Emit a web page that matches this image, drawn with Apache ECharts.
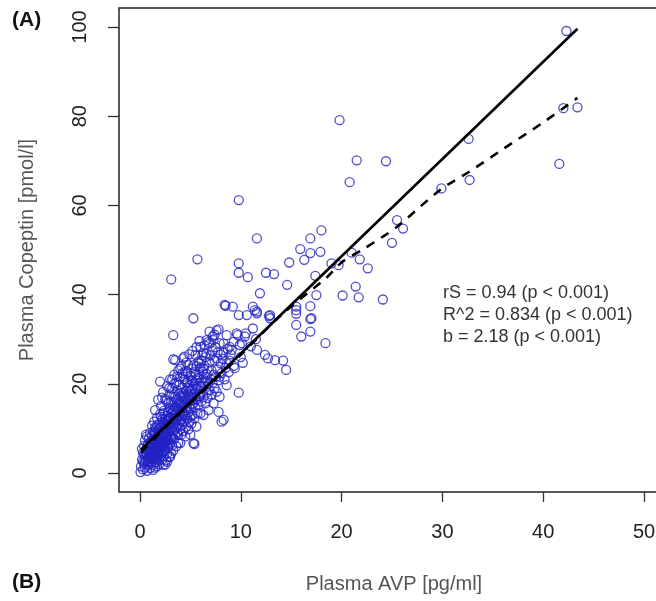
<!DOCTYPE html>
<html><head><meta charset="utf-8">
<script src="https://cdn.jsdelivr.net/npm/echarts@6/dist/echarts.min.js"></script>
<style>html,body{margin:0;padding:0;background:#fff}#c{width:656px;height:601px}</style>
</head><body><div id="c"></div>
<script>
// [Plasma AVP pg/ml, Plasma Copeptin pmol/l]
const samples = [
[0.05,0.2],[0.1,1.5],[0.2,3.0],[0.3,0.8],[0.3,4.5],[0.4,2.2],[0.4,6.1],[0.5,1.2],[0.5,3.6],[0.5,7.3],[0.6,2.8],[0.6,5.2],[0.7,0.5],[0.7,4.0],[0.7,8.2],[0.8,1.9],[0.8,3.3],[0.8,6.4],[0.9,2.5],[0.9,4.8],[0.9,7.8],[1.0,1.1],[1.0,3.9],[1.0,5.8],[1.0,9.0],[0.2,5.4],[0.6,8.6],[0.4,4.2],[0.8,5.0],[0.3,2.6],
[1.1,2.2],[1.1,4.6],[1.1,7.0],[1.2,3.1],[1.2,5.5],[1.2,8.4],[1.2,10.6],[1.3,1.8],[1.3,4.0],[1.3,6.3],[1.3,9.2],[1.4,2.7],[1.4,5.0],[1.4,7.6],[1.4,11.5],[1.5,3.6],[1.5,6.0],[1.5,8.8],[1.5,14.1],[1.6,2.4],[1.6,4.6],[1.6,7.1],[1.6,10.0],[1.7,3.3],[1.7,5.6],[1.7,8.2],[1.7,12.4],[1.8,4.2],[1.8,6.6],[1.8,9.6],[1.8,16.4],[1.9,2.9],[1.9,5.2],[1.9,7.8],[1.9,11.0],[2.0,3.8],[2.0,6.2],[2.0,8.9],[2.0,13.2],[2.0,20.5],[1.3,0.7],[1.5,1.2],[1.7,1.5],[1.9,2.0],
[2.1,4.5],[2.1,7.2],[2.1,10.3],[2.1,15.0],[2.2,3.0],[2.2,5.8],[2.2,8.5],[2.2,12.0],[2.3,1.8],[2.3,4.8],[2.3,7.0],[2.3,9.8],[2.3,18.2],[2.4,3.8],[2.4,6.3],[2.4,11.2],[2.4,14.0],[2.5,5.2],[2.5,7.9],[2.5,10.4],[2.5,16.6],[2.6,2.9],[2.6,6.8],[2.6,9.0],[2.6,12.8],[2.7,4.4],[2.7,8.2],[2.7,11.6],[2.7,19.5],[2.8,5.6],[2.8,7.4],[2.8,13.6],[2.8,15.8],[2.9,3.6],[2.9,9.4],[2.9,12.2],[2.9,17.4],[3.0,3.7],[3.0,6.4],[3.0,10.8],[3.0,14.6],[3.0,21.0],[2.5,1.9],[2.7,2.5],[2.2,16.9],
[3.1,4.4],[3.1,8.0],[3.1,12.5],[3.1,16.0],[3.2,6.2],[3.2,9.6],[3.2,13.4],[3.2,19.0],[3.3,5.0],[3.3,10.9],[3.3,15.2],[3.3,25.5],[3.3,30.9],[3.4,7.6],[3.4,11.8],[3.4,17.6],[3.4,22.0],[3.5,8.6],[3.5,13.0],[3.5,14.8],[3.5,25.3],[3.6,6.0],[3.6,10.2],[3.6,16.4],[3.6,20.2],[3.7,9.0],[3.7,12.6],[3.7,18.6],[3.8,6.7],[3.8,8.5],[3.8,14.2],[3.8,23.0],[3.9,11.0],[3.9,15.6],[3.9,19.8],[4.0,6.7],[4.0,9.8],[4.0,13.8],[4.0,17.2],[4.0,21.6],[3.1,43.4],
[4.1,8.6],[4.1,12.0],[4.1,16.0],[4.1,24.0],[4.2,10.8],[4.2,14.6],[4.2,19.2],[4.3,9.4],[4.3,13.2],[4.3,17.8],[4.3,25.7],[4.4,11.6],[4.4,15.4],[4.4,21.0],[4.4,26.1],[4.5,8.2],[4.5,12.8],[4.5,16.8],[4.5,22.8],[4.6,10.4],[4.6,14.0],[4.6,18.4],[4.7,12.2],[4.7,15.8],[4.7,20.4],[4.8,9.8],[4.8,13.6],[4.8,17.4],[4.8,24.2],[4.9,11.4],[4.9,15.0],[4.9,19.6],[5.0,12.6],[5.0,16.2],[5.0,21.8],[5.0,8.6],
[1.2,6.8],[1.4,9.0],[1.6,8.6],[1.8,7.6],[2.0,10.0],[2.2,9.4],[2.4,8.8],[2.6,10.9],[2.8,11.0],[3.0,12.4],[3.2,11.2],[3.4,9.6],[3.6,12.0],[3.8,12.0],[4.0,11.6],[2.1,12.6],[2.3,13.4],[2.5,12.2],[1.7,10.8],[1.5,10.2],[2.9,14.4],[3.3,13.8],[3.7,15.0],[4.2,13.0],[4.4,17.0],[4.6,16.2],[4.8,19.0],[5.0,18.4],[5.2,15.4],[5.4,20.0],[3.5,17.0],[3.9,17.8],[4.1,18.0],[4.3,21.6],[4.7,22.6],[5.1,20.8],[5.5,22.0],[5.3,24.2],[5.9,24.6],[6.2,26.4],[6.4,28.6],[6.6,29.8],[7.2,30.6],[7.4,31.0],
[0.5,2.4],[0.6,4.1],[0.7,6.0],[0.8,2.6],[0.9,3.6],[1.0,6.8],[1.1,3.4],[1.1,5.9],[1.2,4.3],[1.3,5.1],[1.3,7.4],[1.4,3.9],[1.4,6.3],[1.5,4.8],[1.5,7.2],[1.6,5.7],[1.6,3.4],[1.7,6.9],[1.7,4.4],[1.8,5.4],[1.8,8.6],[1.9,6.5],[1.9,9.2],[2.0,5.0],[2.0,7.4],[2.1,6.0],[2.1,8.7],[2.2,7.0],[2.2,10.6],[2.3,6.0],[2.3,8.4],[2.4,5.0],[2.4,9.9],[2.5,6.6],[2.5,9.2],[2.6,8.0],[2.6,11.8],[2.7,6.0],[2.7,9.8],[2.8,8.8],[2.8,12.2],[2.9,6.8],[2.9,10.9],[3.0,8.4],[3.1,10.2],[3.1,14.0],[3.2,8.0],[3.3,12.2],[3.4,14.2],[3.5,11.4],[3.6,14.0],[3.7,10.8],[3.8,16.4],[3.9,13.0],[4.0,15.4],[4.1,14.0],[4.2,17.0],[4.3,15.4],[4.5,14.6],[4.6,20.2],[4.9,17.2],[5.2,18.8],[5.5,16.6],[5.7,21.2],[6.0,17.6],[6.3,23.4],[6.7,20.6],[3.4,20.0],[3.7,21.6],[4.0,23.4],[4.2,22.4],[4.6,24.8],[4.9,26.6],[5.2,27.4],[5.6,28.2],[5.9,29.6],[2.6,16.2],[2.9,19.0],[3.2,21.0],
[5.1,11.1],[5.1,14.4],[5.1,18.6],[5.1,23.4],[5.2,13.0],[5.2,17.0],[5.2,20.6],[5.3,6.7],[5.3,15.6],[5.3,19.4],[5.3,34.7],[5.4,6.5],[5.4,12.2],[5.4,17.8],[5.4,22.6],[5.5,14.6],[5.5,18.8],[5.5,26.5],[5.6,10.4],[5.6,16.4],[5.6,20.8],[5.6,24.0],[5.7,13.4],[5.7,19.0],[5.7,47.9],[5.8,15.2],[5.8,21.4],[5.8,25.0],[5.9,17.2],[5.9,22.0],[6.0,13.4],[6.0,19.6],[6.0,28.3],[6.0,23.6],
[6.1,16.0],[6.1,20.4],[6.1,25.2],[6.2,18.2],[6.2,22.8],[6.3,13.0],[6.3,17.0],[6.3,21.2],[6.3,27.0],[6.4,19.4],[6.4,24.0],[6.5,15.6],[6.5,20.6],[6.5,26.0],[6.6,18.0],[6.6,22.2],[6.6,26.8],[6.7,16.8],[6.7,23.4],[6.8,14.1],[6.8,20.0],[6.8,29.4],[6.9,18.6],[6.9,24.8],[6.9,31.7],[7.0,21.0],[7.0,26.4],[6.9,29.0],
[7.1,17.6],[7.1,23.0],[7.2,20.2],[7.2,27.4],[7.3,15.6],[7.3,22.0],[7.3,29.8],[7.4,19.0],[7.4,25.2],[7.5,21.6],[7.5,28.2],[7.6,18.2],[7.6,25.7],[7.6,32.0],[7.7,23.2],[7.7,27.0],[7.8,13.7],[7.8,20.8],[7.8,32.2],[7.9,17.1],[7.9,21.6],[7.9,29.1],[8.0,24.6],[8.0,26.6],
[8.1,11.5],[8.1,22.4],[8.2,25.6],[8.3,11.9],[8.3,27.0],[8.3,29.0],[8.4,21.0],[8.4,37.7],[8.5,23.6],[8.5,37.5],[8.6,19.7],[8.6,24.6],[8.6,30.9],[8.7,27.8],[8.8,22.6],[8.9,28.3],[8.9,25.2],[9.0,26.6],
[9.1,27.6],[9.2,37.3],[9.3,29.4],[9.3,24.0],[9.4,23.5],[9.6,31.3],[9.7,30.9],[9.8,18.0],[9.8,35.4],[9.8,44.9],[9.8,47.0],[9.8,61.2],[9.9,28.7],[10.0,26.0],
[10.1,29.1],[10.2,24.7],[10.4,30.6],[10.5,31.3],[10.6,35.4],[10.7,43.9],[11.0,28.4],[11.2,37.3],[11.2,32.4],[11.5,30.0],[11.6,36.2],[11.6,27.6],[11.6,35.8],[11.6,52.6],[11.9,40.3],[11.4,36.5],
[12.4,26.5],[12.5,44.9],[12.7,25.7],[12.8,35.2],[12.9,34.7],[12.9,35.4],[13.3,44.6],[13.4,25.3],[14.2,25.2],[14.5,23.1],[14.6,42.2],[14.8,47.2],
[15.5,36.5],[15.5,37.3],[15.5,35.7],[15.5,33.2],[15.9,50.2],[16.0,30.6],[16.3,47.8],[16.9,52.6],[16.9,49.3],[16.9,37.4],[16.9,34.5],[16.9,31.7],[17.0,34.7],[17.4,44.2],[17.5,39.9],[17.9,49.6],[18.0,54.4],[18.4,29.1],[19.0,47.0],[19.7,46.6],[19.8,79.1],
[20.1,39.8],[20.8,65.2],[21.0,49.4],[21.4,41.8],[21.5,70.1],[21.7,39.4],[21.8,47.9],[22.6,45.9],[24.1,38.9],[24.4,69.9],[25.0,51.6],[25.5,56.7],[26.1,54.8],[29.9,63.8],[32.6,74.9],[32.7,65.7],[41.6,69.3],[42.0,81.8],[42.3,99.1],[43.4,82.0]
];
// Linear regression line (b = 2.18)
const lmX = [0.1, 43.4];
const lmY = [5.2, 99.6];
// Dashed loess-type curve
const smoothX = [0.1, 3, 6, 10, 14, 18.5, 20, 22.3, 24.1, 25.5, 29.8, 32.7, 36, 40, 43.4];
const smoothY = [4.6, 11.3, 17.8, 26.5, 35.4, 43.8, 47.2, 50.4, 53.0, 55.2, 63.5, 67.6, 72.6, 78.6, 84.1];
const xTicks = [0, 10, 20, 30, 40, 50];
const yTicks = [0, 20, 40, 60, 80, 100];
const statLines = ['rS = 0.94 (p < 0.001)', 'R^2 = 0.834 (p < 0.001)', 'b = 2.18 (p < 0.001)'];

const FONT = '"Liberation Sans", Arial, sans-serif';
const chart = echarts.init(document.getElementById('c'), null, {renderer: 'canvas'});
chart.setOption({
  animation: false,
  backgroundColor: '#fff',
  grid: {left: 119, top: 8, width: 550, height: 484, show: true, borderColor: '#222', borderWidth: 1.5,
         backgroundColor: '#fff', outerBoundsMode: 'none', containLabel: false},
  xAxis: {
    type: 'value', min: -2.08, max: 52.48,
    axisLine: {show: false, onZero: false},
    axisTick: {show: true, inside: false, length: 10, customValues: xTicks, lineStyle: {color: '#333', width: 1.3}},
    axisLabel: {customValues: xTicks, margin: 30, fontSize: 20, color: '#222', fontFamily: FONT},
    splitLine: {show: false},
    name: 'Plasma AVP [pg/ml]', nameLocation: 'middle', nameGap: 82,
    nameTextStyle: {fontSize: 20, color: '#555', fontFamily: FONT}
  },
  yAxis: {
    type: 'value', min: -4.26, max: 104.26,
    axisLine: {show: false, onZero: false},
    axisTick: {show: true, inside: false, length: 11, customValues: yTicks, lineStyle: {color: '#333', width: 1.3}},
    axisLabel: {customValues: yTicks, rotate: 90, margin: 29, fontSize: 20, color: '#222', fontFamily: FONT},
    splitLine: {show: false},
    name: 'Plasma Copeptin [pmol/l]', nameLocation: 'middle', nameGap: 82,
    nameTextStyle: {fontSize: 20, color: '#555', fontFamily: FONT}
  },
  series: [
    {type: 'scatter', data: samples, symbol: 'circle', symbolSize: 9,
     itemStyle: {color: 'rgba(0,0,0,0)', borderColor: '#2222c4', borderWidth: 1.3}},
    {type: 'line', data: lmX.map((x, i) => [x, lmY[i]]), symbol: 'none',
     lineStyle: {color: '#000', width: 2.6}},
    {type: 'line', data: smoothX.map((x, i) => [x, smoothY[i]]), symbol: 'none', smooth: 0.3,
     lineStyle: {color: '#000', width: 2.6, type: [9, 8]}}
  ],
  graphic: [
    {type: 'text', left: 12, top: 10, style: {text: '(A)', font: 'bold 21px ' + FONT, fill: '#111'}},
    {type: 'text', left: 12, top: 572, style: {text: '(B)', font: 'bold 21px ' + FONT, fill: '#111'}},
    ...statLines.map((t, i) => ({type: 'text', left: 443, top: 284 + i * 22,
      style: {text: t, font: '18px ' + FONT, fill: '#333'}}))
  ]
});
</script>
</body></html>
